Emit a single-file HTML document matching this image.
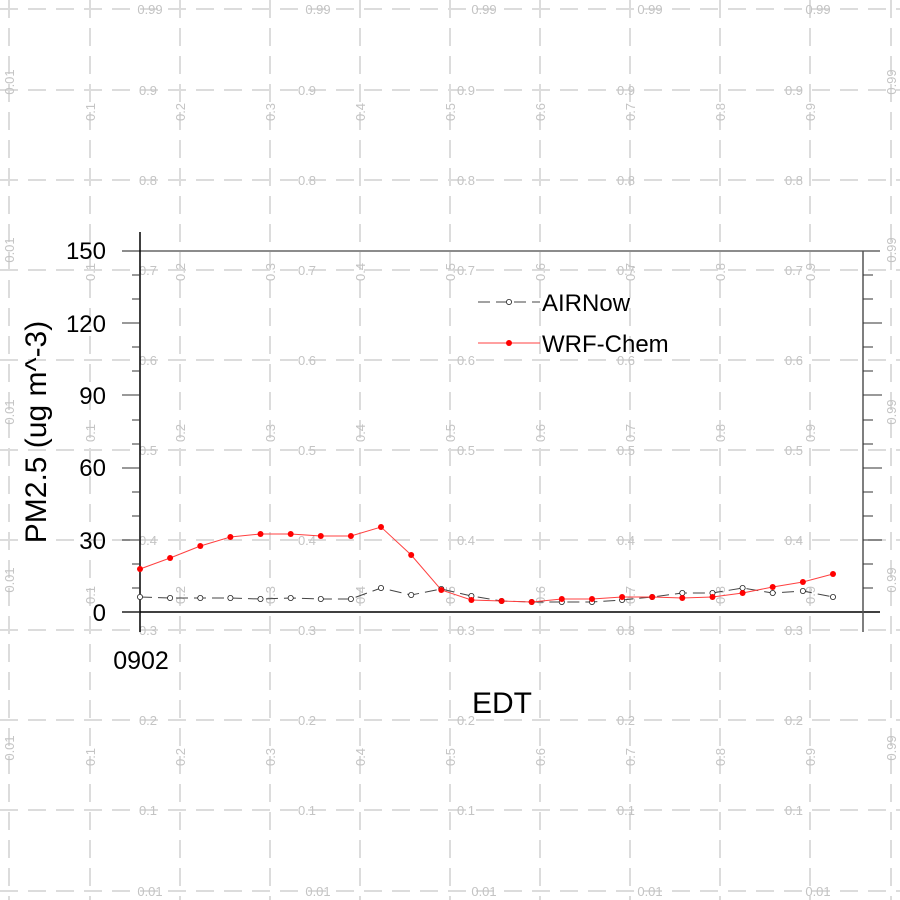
<!DOCTYPE html>
<html><head><meta charset="utf-8"><style>
html,body{margin:0;padding:0;background:#fff;}
svg{display:block;font-family:"Liberation Sans",sans-serif;}
.gl{fill:#c4c4c4;font-size:13px;}
</style></head><body>
<svg width="900" height="900" viewBox="0 0 900 900" xmlns="http://www.w3.org/2000/svg">
<g stroke="#dcdcdc" stroke-width="2" stroke-dasharray="18,10">
<line x1="9" y1="0" x2="9" y2="900"/><line x1="90" y1="0" x2="90" y2="900"/><line x1="180" y1="0" x2="180" y2="900"/><line x1="270" y1="0" x2="270" y2="900"/><line x1="360" y1="0" x2="360" y2="900"/><line x1="450" y1="0" x2="450" y2="900"/><line x1="540" y1="0" x2="540" y2="900"/><line x1="630" y1="0" x2="630" y2="900"/><line x1="720" y1="0" x2="720" y2="900"/><line x1="810" y1="0" x2="810" y2="900"/><line x1="891" y1="0" x2="891" y2="900"/>
<line x1="0" y1="9" x2="900" y2="9"/><line x1="0" y1="90" x2="900" y2="90"/><line x1="0" y1="180" x2="900" y2="180"/><line x1="0" y1="270" x2="900" y2="270"/><line x1="0" y1="360" x2="900" y2="360"/><line x1="0" y1="450" x2="900" y2="450"/><line x1="0" y1="540" x2="900" y2="540"/><line x1="0" y1="630" x2="900" y2="630"/><line x1="0" y1="720" x2="900" y2="720"/><line x1="0" y1="810" x2="900" y2="810"/><line x1="0" y1="891" x2="900" y2="891"/>
</g>
<g id="hl" text-anchor="middle"></g>
<g id="vl" text-anchor="middle"></g>
<script>
(function(){
var ns="http://www.w3.org/2000/svg";
var hl=document.getElementById('hl'),vl=document.getElementById('vl');
function mk(p,x,y,s,tr){var t=document.createElementNS(ns,'text');t.setAttribute('class','gl');t.setAttribute('x',x);t.setAttribute('y',y);if(tr)t.setAttribute('transform',tr);t.textContent=s;p.appendChild(t);}
var A=[148,307,466,626,794],B=[150,318,484,650,818];
var rows=[[9,'0.99',B],[90,'0.9',A],[180,'0.8',A],[270,'0.7',A],[360,'0.6',A],[450,'0.5',A],[540,'0.4',A],[630,'0.3',A],[720,'0.2',A],[810,'0.1',A],[891,'0.01',B]];
rows.forEach(function(r){r[2].forEach(function(x){mk(hl,x,r[0]+5,r[1]);});});
var C=[112,272,433,595,757],D=[82,250,412,580,748];
var cols=[[9,'0.01',D],[90,'0.1',C],[180,'0.2',C],[270,'0.3',C],[360,'0.4',C],[450,'0.5',C],[540,'0.6',C],[630,'0.7',C],[720,'0.8',C],[810,'0.9',C],[891,'0.99',D]];
cols.forEach(function(c){c[2].forEach(function(y){mk(vl,0,5,c[1],'translate('+c[0]+','+y+') rotate(-90)');});});
})();
</script>
<!-- axes -->
<line x1="122" y1="251" x2="880" y2="251" stroke="#666" stroke-width="1.5"/>
<line x1="122" y1="612" x2="880" y2="612" stroke="#000" stroke-width="1.5"/>
<line x1="140" y1="232" x2="140" y2="632" stroke="#000" stroke-width="1.5"/>
<line x1="863" y1="251" x2="863" y2="632" stroke="#555" stroke-width="1.5"/>
<g stroke="#333" stroke-width="1">
<line x1="122" y1="612" x2="140" y2="612"/><line x1="132" y1="588" x2="140" y2="588"/><line x1="132" y1="564" x2="140" y2="564"/>
<line x1="122" y1="540" x2="140" y2="540"/><line x1="132" y1="516" x2="140" y2="516"/><line x1="132" y1="492" x2="140" y2="492"/>
<line x1="122" y1="468" x2="140" y2="468"/><line x1="132" y1="444" x2="140" y2="444"/><line x1="132" y1="420" x2="140" y2="420"/>
<line x1="122" y1="395" x2="140" y2="395"/><line x1="132" y1="371" x2="140" y2="371"/><line x1="132" y1="347" x2="140" y2="347"/>
<line x1="122" y1="323" x2="140" y2="323"/><line x1="132" y1="299" x2="140" y2="299"/><line x1="132" y1="275" x2="140" y2="275"/>
<line x1="863" y1="588" x2="873" y2="588"/><line x1="863" y1="564" x2="873" y2="564"/>
<line x1="863" y1="540" x2="882" y2="540"/><line x1="863" y1="516" x2="873" y2="516"/><line x1="863" y1="492" x2="873" y2="492"/>
<line x1="863" y1="468" x2="882" y2="468"/><line x1="863" y1="444" x2="873" y2="444"/><line x1="863" y1="420" x2="873" y2="420"/>
<line x1="863" y1="395" x2="882" y2="395"/><line x1="863" y1="371" x2="873" y2="371"/><line x1="863" y1="347" x2="873" y2="347"/>
<line x1="863" y1="323" x2="882" y2="323"/><line x1="863" y1="299" x2="873" y2="299"/><line x1="863" y1="275" x2="873" y2="275"/>
</g>
<g style="font-size:24px" text-anchor="end" fill="#000">
<text x="106" y="259">150</text><text x="106" y="332">120</text><text x="106" y="404">90</text><text x="106" y="476">60</text><text x="106" y="549">30</text><text x="106" y="621">0</text>
</g>
<text x="141" y="669" style="font-size:25px" text-anchor="middle">0902</text>
<text x="502" y="713" style="font-size:30px" text-anchor="middle">EDT</text>
<text transform="translate(46,432) rotate(-90)" style="font-size:30px" text-anchor="middle">PM2.5 (ug m^-3)</text>
<polyline points="140,597 170.1,598 200.3,598 230.4,598 260.5,599 290.7,598 320.8,599 350.9,599 381,588 411.2,595 441.3,589 471.4,596 501.6,601 531.7,602 561.8,602 592,602 622.1,600 652.2,597 682.3,593 712.5,593 742.6,588 772.7,593 802.9,591 833,597" fill="none" stroke="#444" stroke-width="1" stroke-dasharray="12,6"/>
<polyline points="140,569 170.1,558 200.3,546 230.4,537 260.5,534 290.7,534 320.8,536 350.9,536 381,527 411.2,555 441.3,590 471.4,600 501.6,601 531.7,602 561.8,599 592,599 622.1,597 652.2,597 682.3,598 712.5,597 742.6,593 772.7,587 802.9,582 833,574" fill="none" stroke="#ff4040" stroke-width="1"/>
<g fill="#fff" stroke="#222" stroke-width="0.8">
<circle cx="140" cy="597" r="2.6"/><circle cx="170.1" cy="598" r="2.6"/><circle cx="200.3" cy="598" r="2.6"/><circle cx="230.4" cy="598" r="2.6"/><circle cx="260.5" cy="599" r="2.6"/><circle cx="290.7" cy="598" r="2.6"/><circle cx="320.8" cy="599" r="2.6"/><circle cx="350.9" cy="599" r="2.6"/><circle cx="381" cy="588" r="2.6"/><circle cx="411.2" cy="595" r="2.6"/><circle cx="441.3" cy="589" r="2.6"/><circle cx="471.4" cy="596" r="2.6"/><circle cx="501.6" cy="601" r="2.6"/><circle cx="531.7" cy="602" r="2.6"/><circle cx="561.8" cy="602" r="2.6"/><circle cx="592" cy="602" r="2.6"/><circle cx="622.1" cy="600" r="2.6"/><circle cx="652.2" cy="597" r="2.6"/><circle cx="682.3" cy="593" r="2.6"/><circle cx="712.5" cy="593" r="2.6"/><circle cx="742.6" cy="588" r="2.6"/><circle cx="772.7" cy="593" r="2.6"/><circle cx="802.9" cy="591" r="2.6"/><circle cx="833" cy="597" r="2.6"/>
</g>
<g fill="#f00">
<circle cx="140" cy="569" r="3"/><circle cx="170.1" cy="558" r="3"/><circle cx="200.3" cy="546" r="3"/><circle cx="230.4" cy="537" r="3"/><circle cx="260.5" cy="534" r="3"/><circle cx="290.7" cy="534" r="3"/><circle cx="320.8" cy="536" r="3"/><circle cx="350.9" cy="536" r="3"/><circle cx="381" cy="527" r="3"/><circle cx="411.2" cy="555" r="3"/><circle cx="441.3" cy="590" r="3"/><circle cx="471.4" cy="600" r="3"/><circle cx="501.6" cy="601" r="3"/><circle cx="531.7" cy="602" r="3"/><circle cx="561.8" cy="599" r="3"/><circle cx="592" cy="599" r="3"/><circle cx="622.1" cy="597" r="3"/><circle cx="652.2" cy="597" r="3"/><circle cx="682.3" cy="598" r="3"/><circle cx="712.5" cy="597" r="3"/><circle cx="742.6" cy="593" r="3"/><circle cx="772.7" cy="587" r="3"/><circle cx="802.9" cy="582" r="3"/><circle cx="833" cy="574" r="3"/>
</g>
<!-- legend -->
<line x1="478" y1="302" x2="540" y2="302" stroke="#444" stroke-width="1" stroke-dasharray="12,6"/>
<circle cx="509" cy="302" r="2.6" fill="#fff" stroke="#222" stroke-width="0.8"/>
<text x="542" y="311" style="font-size:24px">AIRNow</text>
<line x1="478" y1="343" x2="540" y2="343" stroke="#ff4040" stroke-width="1"/>
<circle cx="509" cy="343" r="3" fill="#f00"/>
<text x="542" y="352" style="font-size:24px">WRF-Chem</text>
</svg>
</body></html>
